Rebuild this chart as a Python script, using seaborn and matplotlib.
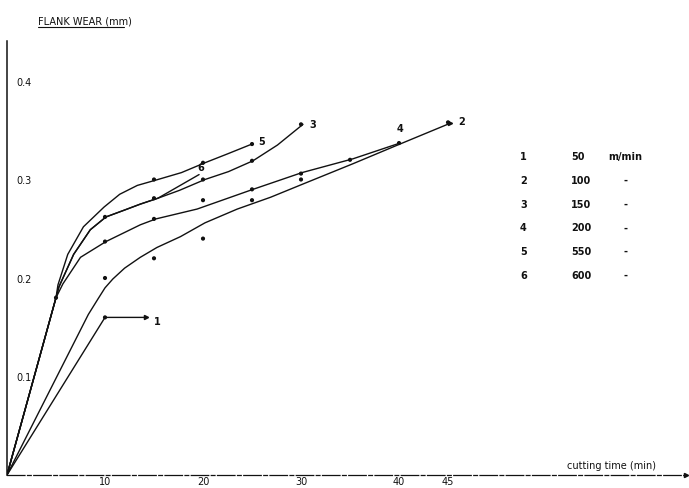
"""Flank wear vs cutting time for six cutting speeds (re-drawn from a scanned figure)."""
import matplotlib; matplotlib.use("Agg")
import numpy as np
import pandas as pd
import matplotlib.pyplot as plt
import seaborn as sns
from matplotlib.lines import Line2D

sns.set_theme(style="white")
plt.rcParams["font.family"] = ["DejaVu Sans"]

# curve number -> cutting speed (m/min)
curve_ids = ["1", "2", "3", "4", "5", "6"]
speeds = ["50", "100", "150", "200", "550", "600"]
units = ["m/min", "-", "-", "-", "-", "-"]

# hand-drawn curves (cutting time min, flank wear mm)
t1 = [0, 10, 14.2]
w1 = [0, 0.16, 0.16]
t2 = [0, 8.3, 9.3, 10.0, 10.8, 12.0, 13.6, 15.3, 17.7, 20.2, 23.5, 26.9, 30.1, 35.3, 40.1, 45.2]
w2 = [0, 0.163, 0.179, 0.19, 0.199, 0.21, 0.221, 0.231, 0.242, 0.256, 0.27, 0.282, 0.295, 0.316, 0.336, 0.357]
t3 = [0, 5.0, 5.3, 6.8, 8.5, 10.1, 12.0, 13.6, 15.4, 17.6, 20.2, 22.6, 25.1, 27.6, 30.2]
w3 = [0, 0.18, 0.191, 0.224, 0.249, 0.262, 0.269, 0.275, 0.281, 0.289, 0.30, 0.308, 0.319, 0.335, 0.356]
t4 = [0, 5.0, 5.7, 7.5, 10.1, 13.6, 15.2, 19.4, 25.1, 30.1, 35.3, 40.1]
w4 = [0, 0.18, 0.194, 0.221, 0.237, 0.254, 0.26, 0.27, 0.29, 0.307, 0.321, 0.337]
t5 = [0, 5.0, 5.2, 6.2, 7.8, 9.9, 11.5, 13.3, 15.4, 17.8, 20.2, 22.5, 25.0]
w5 = [0, 0.18, 0.193, 0.224, 0.252, 0.272, 0.285, 0.294, 0.30, 0.307, 0.317, 0.326, 0.336]
t6 = [0, 5.0, 5.3, 6.8, 8.5, 10.1, 12.0, 13.6, 15.4, 19.6]
w6 = [0, 0.18, 0.191, 0.224, 0.249, 0.262, 0.269, 0.275, 0.281, 0.305]

# measured points (dots)
mt1 = [10]
mw1 = [0.16]
mt2 = [10, 15, 20, 25, 30, 35, 45]
mw2 = [0.20, 0.22, 0.24, 0.279, 0.30, 0.32, 0.358]
mt3 = [5, 10, 15, 20, 25, 30]
mw3 = [0.18, 0.262, 0.281, 0.30, 0.319, 0.356]
mt4 = [10, 15, 20, 25, 30, 40]
mw4 = [0.237, 0.26, 0.279, 0.29, 0.306, 0.337]
mt5 = [15, 20, 25]
mw5 = [0.30, 0.317, 0.336]

traces = [(t1, w1), (t2, w2), (t3, w3), (t4, w4), (t5, w5), (t6, w6)]
curves = pd.concat([pd.DataFrame({"time": t, "wear": w, "curve": c})
                    for c, (t, w) in zip(curve_ids, traces)], ignore_index=True)
meas = pd.concat([pd.DataFrame({"time": t, "wear": w})
                  for t, w in [(mt1, mw1), (mt2, mw2), (mt3, mw3), (mt4, mw4), (mt5, mw5)]],
                 ignore_index=True)

W, H = 689, 489
fig = plt.figure(figsize=(W / 100, H / 100), dpi=100)
x0, y0, xs, ys = 7, 476, 9.8, 985   # pixel origin and px-per-unit of the scan
ax = fig.add_axes([x0 / W, (H - y0) / H, 679 / W, 434 / H])
ax.set_xlim(0, 679 / xs)
ax.set_ylim(0, 434 / ys)

ink = "#111111"
sns.lineplot(data=curves, x="time", y="wear", units="curve", estimator=None, sort=False,
             color=ink, lw=1.0, ax=ax, legend=False)
sns.scatterplot(data=meas, x="time", y="wear", color=ink, s=9, edgecolor="none", ax=ax)

# curve-end labels
ends = {"1": (0.8, -0.004), "2": (0.8, 0.002), "3": (0.7, 0.0), "4": (-0.3, 0.01),
        "5": (0.6, 0.003), "6": (-0.2, 0.003)}
for c, (t, w) in zip(curve_ids, traces):
    dx, dy = ends[c]
    ax.text(t[-1] + dx, w[-1] + dy, c, fontsize=7, fontweight="bold", color=ink,
            ha="left", va="bottom" if c in "46" else "center")
ax.plot([14.2], [0.16], marker=">", ms=3, color=ink)
ax.plot([45.2], [0.357], marker=">", ms=3, color=ink)

sns.despine(ax=ax)
ax.spines["left"].set_color(ink); ax.spines["bottom"].set_color(ink)
ax.spines["left"].set_linewidth(1.1); ax.spines["bottom"].set_linewidth(0.9)
ax.spines["bottom"].set_linestyle((0, (14, 2, 3, 2)))
ax.set_xticks([10, 20, 30, 40, 45])
ax.set_yticks([0.1, 0.2, 0.3, 0.4])
ax.set_yticklabels(["0.1", "0.2", "0.3", "0.4"])
ax.tick_params(axis="y", direction="in", length=4, width=0.8, pad=-7, labelsize=7, colors=ink)
for lbl in ax.get_yticklabels():
    lbl.set_horizontalalignment("left")
ax.tick_params(axis="x", direction="in", length=4, width=0.8, pad=0.5, labelsize=7, colors=ink)
ax.set_xlabel(""); ax.set_ylabel("")
ax.plot([1.0], [0.0], marker=">", ms=3, color=ink, transform=ax.transAxes, clip_on=False)

fig.text(38 / W, 1 - 22 / H, "FLANK WEAR (mm)", fontsize=7, color=ink, va="center")
fig.add_artist(Line2D([38 / W, 124 / W], [1 - 28 / H, 1 - 28 / H], color=ink, lw=0.8))
fig.text(567 / W, 1 - 471 / H, "cutting time (min)", fontsize=7, color=ink, va="bottom")

# speed table on the right
for i, (c, s, u) in enumerate(zip(curve_ids, speeds, units)):
    py = 1 - (157 + 23.8 * i) / H
    fig.text(520 / W, py, c, fontsize=7, fontweight="bold", color=ink, va="center")
    fig.text(571 / W, py, s, fontsize=7, fontweight="bold", color=ink, va="center")
    fig.text((608 if i == 0 else 623) / W, py, u, fontsize=7, fontweight="bold", color=ink,
             va="center")

fig.savefig("out.png", dpi=100)
